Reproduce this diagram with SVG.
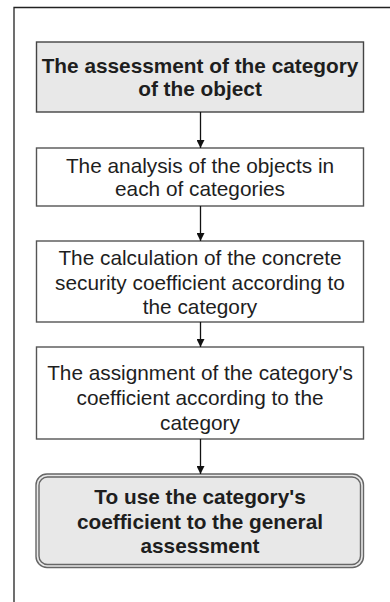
<svg xmlns="http://www.w3.org/2000/svg" width="390" height="602" viewBox="0 0 390 602">
<style>
.box{fill:#ffffff;stroke:#555;stroke-width:1.4}
.gray{fill:#e8e8e8}
.t{font-family:"Liberation Sans",Arial,sans-serif;font-size:20.8px;fill:#1e1e1e;text-anchor:middle}
.b{font-weight:bold}
.edge{stroke:#111;stroke-width:1.3;fill:none}
</style>
<defs>
<marker id="ah" viewBox="0 0 10 10" refX="10" refY="5" markerWidth="8" markerHeight="8" markerUnits="userSpaceOnUse" orient="auto">
<path d="M0,0 L10,5 L0,10 Z" fill="#111"/>
</marker>
</defs>
<rect width="390" height="602" fill="#ffffff"/>
<path d="M14,602 V7.5 H390" fill="none" stroke="#222" stroke-width="1.3"/>
<g id="n1">
<rect class="box gray" x="36.5" y="42" width="327" height="70" style="stroke:#444"/>
<text class="t b" x="200" y="72.5">The assessment of the category</text>
<text class="t b" x="200" y="95.5">of the object</text>
</g>
<g id="n2">
<rect class="box" x="36.5" y="148" width="327" height="58"/>
<text class="t" x="200" y="172.5">The analysis of the objects in</text>
<text class="t" x="200" y="196">each of categories</text>
</g>
<g id="n3">
<rect class="box" x="36.5" y="241" width="327" height="81"/>
<text class="t" x="200" y="265">The calculation of the concrete</text>
<text class="t" x="200" y="289.5">security coefficient according to</text>
<text class="t" x="200" y="314">the category</text>
</g>
<g id="n4">
<rect class="box" x="36.5" y="347" width="327" height="92"/>
<text class="t" x="200" y="380">The assignment of the category's</text>
<text class="t" x="200" y="405">coefficient according to the</text>
<text class="t" x="200" y="430">category</text>
</g>
<g id="n5">
<rect x="36" y="474" width="327.5" height="93.5" rx="11" fill="#e8e8e8" stroke="#666" stroke-width="1.4"/>
<rect x="39" y="477" width="321.5" height="87.5" rx="8.5" fill="none" stroke="#666" stroke-width="1.4"/>
<text class="t b" x="200" y="503.5">To use the category's</text>
<text class="t b" x="200" y="528.5">coefficient to the general</text>
<text class="t b" x="200" y="553">assessment</text>
</g>
<g id="edges">
<line class="edge" x1="200.5" y1="112" x2="200.5" y2="148" marker-end="url(#ah)"/>
<line class="edge" x1="200.5" y1="206" x2="200.5" y2="241" marker-end="url(#ah)"/>
<line class="edge" x1="200.5" y1="322" x2="200.5" y2="347" marker-end="url(#ah)"/>
<line class="edge" x1="200.5" y1="439" x2="200.5" y2="474" marker-end="url(#ah)"/>
</g>
</svg>
